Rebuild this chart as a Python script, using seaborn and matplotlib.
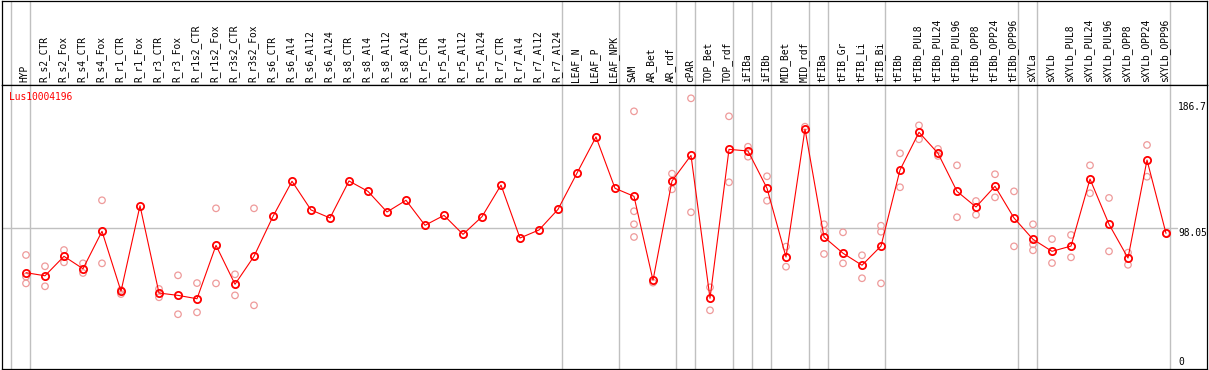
import matplotlib
matplotlib.use("Agg")
import matplotlib.pyplot as plt
import matplotlib.transforms as mtransforms
import seaborn as sns
import numpy as np
import pandas as pd

# categories (x axis, top header)
categories = [
    "HYP", "R_s2_CTR", "R_s2_Fox", "R_s4_CTR", "R_s4_Fox", "R_r1_CTR", "R_r1_Fox",
    "R_r3_CTR", "R_r3_Fox", "R_r1s2_CTR", "R_r1s2_Fox", "R_r3s2_CTR", "R_r3s2_Fox",
    "R_s6_CTR", "R_s6_Al4", "R_s6_Al12", "R_s6_Al24", "R_s8_CTR", "R_s8_Al4",
    "R_s8_Al12", "R_s8_Al24", "R_r5_CTR", "R_r5_Al4", "R_r5_Al12", "R_r5_Al24",
    "R_r7_CTR", "R_r7_Al4", "R_r7_Al12", "R_r7_Al24", "LEAF_N", "LEAF_P", "LEAF_NPK",
    "SAM", "AR_Bet", "AR_rdf", "cPAR", "TOP_Bet", "TOP_rdf", "iFIBa", "iFIBb",
    "MID_Bet", "MID_rdf", "tFIBa", "tFIB_Gr", "tFIB_Li", "tFIB_Bi", "tFIBb",
    "tFIBb_PUL8", "tFIBb_PUL24", "tFIBb_PUL96", "tFIBb_OPP8", "tFIBb_OPP24",
    "tFIBb_OPP96", "sXYLa", "sXYLb", "sXYLb_PUL8", "sXYLb_PUL24", "sXYLb_PUL96",
    "sXYLb_OPP8", "sXYLb_OPP24", "sXYLb_OPP96",
]

# mean expression per sample
mean_values = [
    67.5, 65.4, 78.7, 70.2, 95.8, 54.8, 113.3, 53.6, 52.0, 49.7,
    86.2, 59.6, 78.7, 106.0, 130.0, 110.4, 104.9, 130.2, 123.1, 109.0,
    117.0, 99.9, 106.7, 93.7, 105.8, 127.4, 91.2, 96.7, 110.8, 135.6,
    160.3, 125.2, 119.7, 62.3, 130.2, 147.7, 50.0, 151.8, 150.7, 125.2,
    78.2, 165.7, 91.9, 80.8, 72.6, 85.7, 137.7, 163.5, 149.1, 123.1,
    112.4, 126.6, 104.9, 90.3, 82.1, 85.7, 131.5, 100.6, 77.5, 144.5,
    94.4,
]

# replicate values per sample
replicates = [
    [79.6, 64.8, 60.2], [71.9, 58.2], [83.0, 74.6], [73.9, 67.3], [117.0, 73.9],
    [55.7, 52.9], [], [56.4, 50.7], [65.7, 39.1], [60.4, 40.4],
    [111.5, 60.2], [66.4, 52.0], [111.5, 45.2], [], [],
    [], [], [], [], [],
    [], [], [], [], [],
    [], [], [], [], [],
    [], [], [177.8, 109.5, 100.6, 91.9], [60.7], [135.2, 124.5],
    [186.7, 108.8], [57.5, 41.8], [174.4, 129.3], [153.6, 146.8], [133.4, 116.7],
    [85.3, 71.6], [167.3], [100.6, 96.0, 80.3], [95.1, 73.9], [79.4, 63.7],
    [99.6, 95.5, 60.2], [149.1, 125.9], [168.2, 158.7], [152.1, 147.3], [140.9, 105.4],
    [116.5, 107.1], [134.8, 119.0], [123.1, 85.5], [100.6, 86.9, 82.8], [90.5, 74.1],
    [93.3, 78.0], [140.9, 121.8], [118.6, 82.1], [81.2, 72.9], [154.8, 133.1],
    [94.4],
]

# samples after which a group separator is drawn (-1 = before the first one)
group_ends = [-1, 0, 28, 31, 34, 35, 37, 38, 39, 41, 42, 45, 52, 53, 60]

gene = "Lus10004196"
axis_labels = {"186.7": 186.7, "98.05": 98.05, "0": 0}

sns.set_style("white")
plt.rcParams["font.family"] = ["DejaVu Sans Mono", "DejaVu Sans"]

W, H = 1209, 370
fig = plt.figure(figsize=(W / 100, H / 100), dpi=100)
ax_head = fig.add_axes([2 / W, 285 / H, 1205 / W, 84.5 / H])
ax = fig.add_axes([2 / W, 1 / H, 1205 / W, 284 / H])

x = np.arange(len(categories))
df_mean = pd.DataFrame({"x": x, "value": mean_values})
df_rep = pd.DataFrame(
    [(i, v) for i, vals in enumerate(replicates) for v in vals], columns=["x", "value"]
)

grey = "#c0c0c0"
pink = "#ee9a9a"
red = "#ff0000"

xlim = (-24 / 19, 1181 / 19)
for a in (ax, ax_head):
    a.set_xlim(*xlim)
    for g in group_ends:
        a.axvline(g + 0.235, color=grey, lw=1.0, zorder=0)
    for s in a.spines.values():
        s.set_color("black")
        s.set_linewidth(0.9)
    a.set_xticks([])
    a.set_yticks([])
    a.set_xlabel("")
    a.set_ylabel("")

ax.set_ylim(1.67, 195.8)
ax.plot([xlim[0], 60.58], [98.05, 98.05], color=grey, lw=1.0, zorder=0)

sns.scatterplot(data=df_rep, x="x", y="value", ax=ax, marker="o", s=22,
                facecolors="none", edgecolor=pink, linewidth=0.9, zorder=2, legend=False)
sns.lineplot(data=df_mean, x="x", y="value", ax=ax, color=red, lw=0.8,
             marker="o", ms=5.2, mfc="none", mec=red, mew=1.3, zorder=3)
ax.set_xlabel("")
ax.set_ylabel("")
ax.set_xlim(*xlim)
ax.set_ylim(1.67, 195.8)

ax.text(7.5 / 1205, 1 - 11.7 / 284, gene, transform=ax.transAxes, color=red,
        fontsize=6.9, va="center", ha="left")

offsets = {"186.7": -6, "98.05": -3.4, "0": 7}
for lab, val in axis_labels.items():
    ax.annotate(lab, xy=(60.63, val), xytext=(0, offsets[lab]), textcoords="offset points",
                fontsize=6.9, va="center", ha="left", color="black", annotation_clip=False)

trans = mtransforms.blended_transform_factory(ax_head.transData, ax_head.transAxes)
for i, c in enumerate(categories):
    ax_head.text(i - 0.06, 2.5 / 84.5, c, transform=trans, rotation=90,
                 ha="center", va="bottom", fontsize=6.9, color="black")

fig.savefig("out.png", dpi=100)
